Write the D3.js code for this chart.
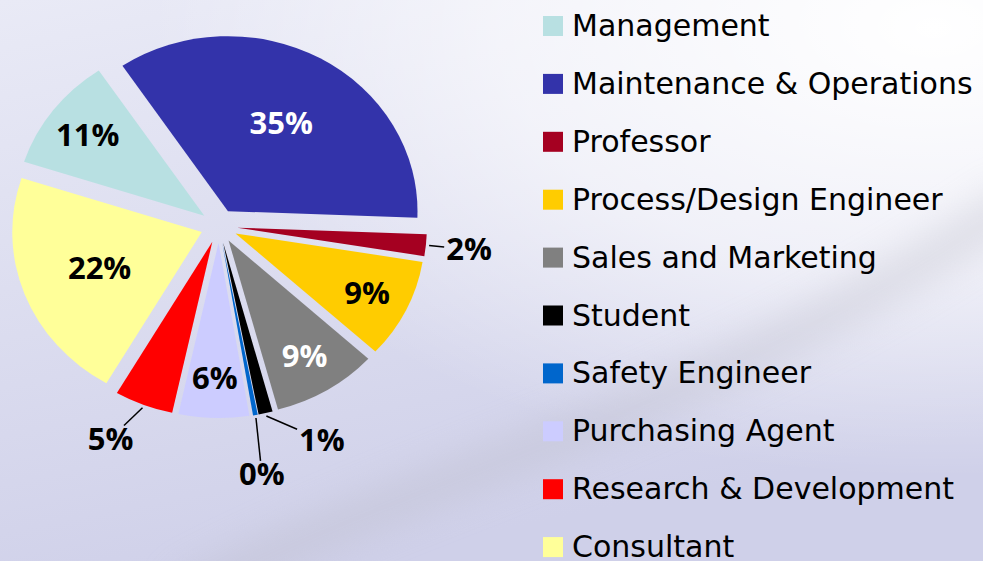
<!DOCTYPE html>
<html>
<head>
<meta charset="utf-8">
<script src="https://cdn.jsdelivr.net/npm/d3@7"></script>
<style>
  html, body { margin: 0; padding: 0; overflow: hidden; }
  svg { display: block; }
</style>
</head>
<body>
<div id="chart"></div>
<script>
var svgWidth = 983;
var svgHeight = 561;

// data
var categories = ["Management", "Maintenance & Operations", "Professor", "Process/Design Engineer",
    "Sales and Marketing", "Student", "Safety Engineer", "Purchasing Agent",
    "Research & Development", "Consultant"];
var shares = [10.6, 35.0, 2.0, 9.2, 9.0, 1.2, 0.4, 6.0, 5.0, 21.6];

// styles
var sliceColors = ["#b8e0e2", "#3333aa", "#a50021", "#ffcc00", "#808080",
    "#000000", "#0066cc", "#ccccff", "#ff0000", "#ffff99"];
var whiteLabels = ["Maintenance & Operations", "Sales and Marketing"];

var center = {x: 219, y: 226};
var radius = 175;
var stretchX = 1.083;
var explode = 17;
var startDeg = -72;

// nudges for outside labels so they do not collide (degrees, px)
var labelTweak = {
    "Student": {da: -11, dr: 2},
    "Safety Engineer": {da: 1, dr: 19},
    "Research & Development": {da: 4, dr: 3}
};

var data = categories.map(function(c, i){
    return {name: c, value: shares[i], color: sliceColors[i]};
});

var svg = d3.select("#chart").append("svg").attr("width", svgWidth).attr("height", svgHeight);
var defs = svg.append("defs");

// background
var bg = defs.append("linearGradient").attr("id", "bg").attr("x1", 0).attr("y1", 0).attr("x2", 0.35).attr("y2", 1);
bg.append("stop").attr("offset", "0%").attr("stop-color", "#e9eaf6");
bg.append("stop").attr("offset", "100%").attr("stop-color", "#cfd0e9");
var glow = defs.append("radialGradient").attr("id", "glow").attr("cx", 0.95).attr("cy", 0.05).attr("r", 0.8);
glow.append("stop").attr("offset", "0%").attr("stop-color", "#ffffff").attr("stop-opacity", 1);
glow.append("stop").attr("offset", "55%").attr("stop-color", "#ffffff").attr("stop-opacity", 0.6);
glow.append("stop").attr("offset", "100%").attr("stop-color", "#ffffff").attr("stop-opacity", 0);
defs.append("filter").attr("id", "blur").attr("x", "-50%").attr("y", "-50%").attr("width", "200%").attr("height", "200%")
    .append("feGaussianBlur").attr("stdDeviation", 18);

svg.append("rect").attr("width", svgWidth).attr("height", svgHeight).attr("fill", "url(#bg)");
svg.append("rect").attr("width", svgWidth).attr("height", svgHeight).attr("fill", "url(#glow)");
svg.append("path")
    .attr("d", "M 180 600 C 420 470, 700 420, 1020 200")
    .attr("fill", "none").attr("stroke", "#b9b9c6").attr("stroke-width", 40)
    .attr("opacity", 0.35).attr("filter", "url(#blur)");

// pie
var start = startDeg * Math.PI / 180;
var pie = d3.pie().sort(null).value(d => d.value).startAngle(start).endAngle(start + 2 * Math.PI);
var arc = d3.arc().innerRadius(0).outerRadius(radius);
var arcs = pie(data);

var chartGroup = svg.append("g").attr("transform", `translate(${center.x},${center.y})`);

function mid(d){ return (d.startAngle + d.endAngle) / 2; }
function pt(a, r){ return [stretchX * r * Math.sin(a), -r * Math.cos(a)]; }

chartGroup.selectAll("path.slice").data(arcs).enter().append("path")
    .attr("class", "slice")
    .attr("transform", function(d){
        var a = mid(d);
        return `scale(${stretchX},1) translate(${explode * Math.sin(a)},${-explode * Math.cos(a)})`;
    })
    .attr("d", arc)
    .attr("fill", d => d.data.color);

// labels
var labelGroup = chartGroup.append("g")
    .attr("font-family", "'Open Sans', 'Noto Sans', sans-serif")
    .attr("font-weight", 700)
    .attr("font-size", "31px");

arcs.forEach(function(d){
    var a = mid(d);
    var span = d.endAngle - d.startAngle;
    var txt = Math.round(d.data.value) + "%";
    var label = labelGroup.append("text").attr("text-anchor", "middle").attr("dy", "0.36em").text(txt);
    var w = label.node().getComputedTextLength();
    var inR = span > 1.2 ? 101 : 135;
    var chord = 2 * inR * Math.sin(span / 2);
    var p;
    if (chord >= w) {
        p = pt(a, inR + explode);
        label.attr("x", p[0]).attr("y", p[1])
            .attr("fill", whiteLabels.indexOf(d.data.name) >= 0 ? "#ffffff" : "#000000");
    } else {
        var tw = labelTweak[d.data.name] || {da: 0, dr: 0};
        var la = a + tw.da * Math.PI / 180;
        p = pt(la, 232 + tw.dr);
        label.attr("x", p[0]).attr("y", p[1]).attr("fill", "#000000");
        // leader line from the slice rim to the label box edge
        var s = pt(a, radius + explode + 3);
        var hw = w / 2 + 2, hh = 13;
        var dx = s[0] - p[0], dy = s[1] - p[1];
        var t = Math.min(hw / Math.abs(dx || 1e-6), hh / Math.abs(dy || 1e-6));
        var e = [p[0] + dx * t, p[1] + dy * t];
        chartGroup.append("line")
            .attr("x1", s[0]).attr("y1", s[1]).attr("x2", e[0]).attr("y2", e[1])
            .attr("stroke", "#000").attr("stroke-width", 1.5);
    }
});

// legend
var legend = svg.append("g").attr("transform", "translate(543,36)");
var rowStep = 57.9;
var rows = legend.selectAll("g").data(data).enter().append("g")
    .attr("transform", (d, i) => `translate(0,${i * rowStep})`);
rows.append("rect").attr("x", 0).attr("y", -20).attr("width", 20).attr("height", 20).attr("fill", d => d.color);
rows.append("text").attr("x", 29).attr("y", 0)
    .attr("font-family", "'DejaVu Sans', sans-serif")
    .attr("font-size", "30px")
    .attr("fill", "#000")
    .text(d => d.name);
</script>
</body>
</html>
